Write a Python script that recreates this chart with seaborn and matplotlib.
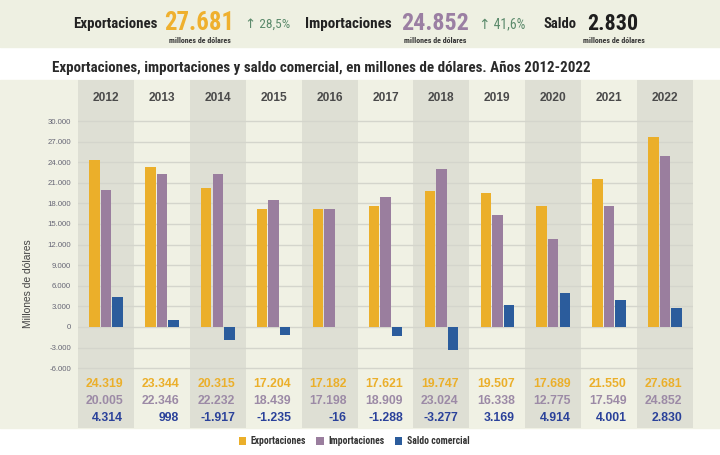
import matplotlib
matplotlib.use("Agg")
import matplotlib.pyplot as plt
from matplotlib import font_manager
from matplotlib.patches import Rectangle, Patch
import seaborn as sns
import pandas as pd

# ---------------- data ----------------
years = ["2012", "2013", "2014", "2015", "2016", "2017", "2018", "2019", "2020", "2021", "2022"]
exportaciones = [24319, 23344, 20315, 17204, 17182, 17621, 19747, 19507, 17689, 21550, 27681]
importaciones = [20005, 22346, 22232, 18439, 17198, 18909, 23024, 16338, 12775, 17549, 24852]
saldo = [4314, 998, -1917, -1235, -16, -1288, -3277, 3169, 4914, 4001, 2830]
series_names = ["Exportaciones", "Importaciones", "Saldo comercial"]
y_ticks = [-6000, -3000, 0, 3000, 6000, 9000, 12000, 15000, 18000, 21000, 24000, 27000, 30000]
head_export, head_export_var = "27.681", "28,5%"
head_import, head_import_var = "24.852", "41,6%"
head_saldo = "2.830"
title = "Exportaciones, importaciones y saldo comercial, en millones de dólares. Años 2012-2022"

C_EXP = "#EBAF2A"
C_IMP = "#9A7E9E"
C_SAL = "#2B5C9C"
C_SAL_TXT = "#2A419A"
C_IMP_TXT = "#9C8AA6"
CREAM = "#F0F1E4"
GRAY = "#DEDFD4"
GREEN = "#5B8A6B"

entries = font_manager.fontManager.ttflist
names = {f.name for f in entries}
STRETCH = "normal"
if "Liberation Sans Narrow" in names:
    NARROW = "Liberation Sans Narrow"
elif "Roboto Condensed" in names:
    NARROW = "Roboto Condensed"
elif any(f.name == "DejaVu Sans" and str(f.stretch) in ("condensed", "semi-condensed") for f in entries):
    NARROW = "DejaVu Sans"
    STRETCH = "condensed"
else:
    NARROW = "Liberation Sans"
REG = "Liberation Sans"

df = pd.DataFrame({
    "year": years * 3,
    "serie": [series_names[0]] * len(years) + [series_names[1]] * len(years) + [series_names[2]] * len(years),
    "valor": exportaciones + importaciones + saldo,
})

W, H = 720, 455
fig = plt.figure(figsize=(7.2, 4.55), dpi=100, facecolor="white")

def fy(y):
    return 1 - y / H

# background bands
fig.patches.append(Rectangle((0, fy(47)), 1, 47 / H, transform=fig.transFigure, color="#EEF0E2", zorder=-5))
fig.patches.append(Rectangle((0, fy(428)), 1, (428 - 80) / H, transform=fig.transFigure, color=CREAM, zorder=-5))

# main axes: columns from x=78 to 693 px, y 80..428 px
ax = fig.add_axes([78 / W, fy(428), (693 - 78) / W, (428 - 80) / H])
ax.patch.set_alpha(0)

sns.barplot(data=df, x="year", y="valor", hue="serie", order=years, hue_order=series_names,
            palette=[C_EXP, C_IMP, C_SAL], saturation=1, width=0.62, gap=0.1, ax=ax,
            edgecolor="none", linewidth=0, legend=False, zorder=3)

ax.set_xlim(-0.5, len(years) - 0.5)
ax.set_ylim(-14709, 35971)
for i in range(0, len(years), 2):
    ax.axvspan(i - 0.5, i + 0.5, color=GRAY, zorder=0, lw=0)

ax.set_axisbelow(True)
ax.set_yticks(y_ticks)
ax.set_yticklabels([f"{v:,}".replace(",", ".") for v in y_ticks], fontfamily=REG, fontsize=5.6, color="#666675")
ax.yaxis.grid(True, color="#D4D5CC", lw=1.0, zorder=0.5)
ax.xaxis.grid(False)
ax.tick_params(axis="y", length=0, pad=5)
ax.set_xticks([])
ax.set_xlabel("")
ax.set_ylabel("")
for s in ax.spines.values():
    s.set_visible(False)

# year headers and table values
tr = ax.get_xaxis_transform()
for i, yr in enumerate(years):
    ax.text(i, 0.948, yr, transform=tr, ha="center", va="center", fontsize=8.6,
            fontweight="bold", color="#4A4A4A", fontfamily=REG)
    for vals, yf, col in [(exportaciones, 0.1264, C_EXP), (importaciones, 0.0776, C_IMP_TXT), (saldo, 0.0287, C_SAL_TXT)]:
        ax.text(i + 0.31, yf, f"{vals[i]:,}".replace(",", "."), transform=tr, ha="right", va="center",
                fontsize=8.8, fontweight="bold", color=col, fontfamily=REG)

# y label
fig.text(28 / W, fy(284), "Millones de dólares", rotation=90, ha="center", va="center",
         fontsize=7.4, color="#444444", fontfamily=REG)

renderer = fig.canvas.get_renderer()

def fit(t, target):
    w = t.get_window_extent(renderer).width
    if w > 0:
        t.set_fontsize(t.get_fontsize() * target / w)

def ftext(x0, x1, ybase, s, size, color, weight="bold"):
    t = fig.text(x0 / W, fy(ybase), s, ha="left", va="baseline", fontsize=size, color=color,
                 fontweight=weight, family=[NARROW, "DejaVu Sans"], fontstretch=STRETCH)
    fit(t, x1 - x0)
    return t

# title
ftext(52, 592, 72, title, 10, "#2A2A2A")

# header
ftext(73, 158, 28, "Exportaciones", 12, "#222222")
ftext(164, 234, 30, head_export, 20, "#EFB02E")
ftext(245, 290, 28, "↑ " + head_export_var, 10, GREEN, weight="normal")
ftext(305, 392, 28, "Importaciones", 12, "#222222")
ftext(401, 469, 30, head_import, 20, "#9B7FA3")
ftext(479, 525, 28, "↑ " + head_import_var, 10, GREEN, weight="normal")
ftext(543, 576, 28, "Saldo", 12, "#222222")
ftext(587, 638, 30, head_saldo, 20, "#1E1E1E")
for x0, x1 in [(169, 231), (404, 467), (583, 645)]:
    ftext(x0, x1, 43, "millones de dólares", 5, "#333333")

# legend
handles = [Patch(facecolor=c, edgecolor="none") for c in [C_EXP, C_IMP, C_SAL]]
fig.legend(handles, series_names, loc="center", bbox_to_anchor=(354 / W, fy(441)), ncol=3,
           frameon=False, handlelength=0.75, handleheight=0.9, handletextpad=0.45, columnspacing=1.1,
           prop={"family": [NARROW, "DejaVu Sans"], "weight": "bold", "size": 7.0, "stretch": STRETCH},
           labelcolor="#333333")

fig.savefig("out.png", dpi=100, facecolor="white")
